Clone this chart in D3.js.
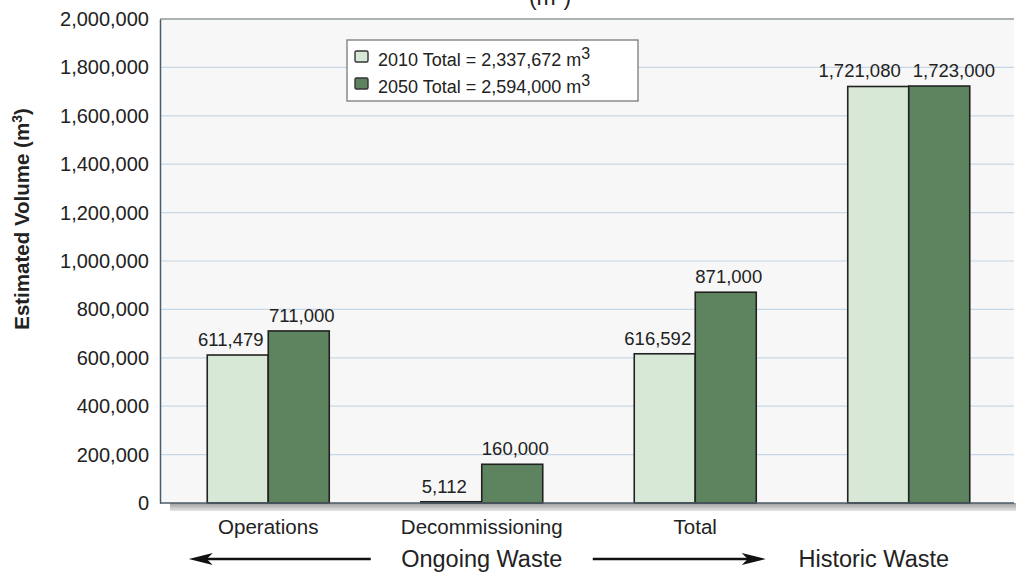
<!DOCTYPE html>
<html>
<head>
<meta charset="utf-8">
<script src="https://cdn.jsdelivr.net/npm/d3@7"></script>
<style>
	body { margin: 0; background: #fff; }
	svg { display: block; font-family: 'Liberation Sans', Arial, sans-serif; }
	.tick line { display: none; }
</style>
</head>
<body>
<div id="chart"></div>
<script>
// ********** GROUPED BAR CHART **********

// Chart data
const categories = ['Operations', 'Decommissioning', 'Total', 'Historic'];
const axisLabels = ['Operations', 'Decommissioning', 'Total', ''];
const seriesNames = ['2010', '2050'];
const values2010 = [611479, 5112, 616592, 1721080];
const values2050 = [711000, 160000, 871000, 1723000];
const legendTotals = ['2,337,672', '2,594,000'];
const yTicks = [0, 200000, 400000, 600000, 800000, 1000000, 1200000, 1400000, 1600000, 1800000, 2000000];

// Size and margins
const width = 1016;
const height = 575;
const margin = { top: 19, left: 160, right: 2, bottom: 72 };
const innerW = width - margin.left - margin.right;
const innerH = height - margin.top - margin.bottom;

// Colours
const colors = { '2010': '#d7e8d6', '2050': '#5e845f' };
// Label nudges per series (labels lean away from each other)
const labelNudge = { '2010': -7, '2050': 3 };

const svg = d3.select('#chart')
	.append('svg')
	.attr('width', width)
	.attr('height', height);

// Scales
const xScale = d3.scaleBand()
	.domain(categories)
	.range([1.5, innerW + 1.5]);

const xSub = d3.scaleBand()
	.domain(seriesNames)
	.range([0, xScale.bandwidth()])
	.paddingOuter(0.75);

const yScale = d3.scaleLinear()
	.domain([0, 2000000])
	.range([innerH, 0]);

const fmt = d3.format(',');

// Title (cut off at top of picture)
svg.append('text')
	.attr('x', 550)
	.attr('y', 5)
	.attr('text-anchor', 'middle')
	.style('font-size', '23px')
	.attr('fill', '#222')
	.text('(m³)');

const plot = svg.append('g')
	.attr('transform', `translate(${margin.left}, ${margin.top})`);

// Plot background
plot.append('rect')
	.attr('width', innerW)
	.attr('height', innerH)
	.attr('fill', '#f7f7f7');

// Shadow under the x axis
const defs = svg.append('defs');
const grad = defs.append('linearGradient')
	.attr('id', 'shadow')
	.attr('x1', 0).attr('y1', 0).attr('x2', 0).attr('y2', 1);
grad.append('stop').attr('offset', '0%').attr('stop-color', '#9c9c9c');
grad.append('stop').attr('offset', '100%').attr('stop-color', '#e6e6e6');

plot.append('rect')
	.attr('x', 10)
	.attr('y', innerH)
	.attr('width', innerW)
	.attr('height', 8)
	.attr('fill', 'url(#shadow)');

// Gridlines
plot.append('g')
	.selectAll('line')
	.data(yTicks.slice(1, -1))
	.join('line')
	.attr('x1', 0)
	.attr('x2', innerW)
	.attr('y1', d => yScale(d))
	.attr('y2', d => yScale(d))
	.attr('stroke', '#c6d8e6')
	.attr('stroke-width', 1.2);

// Top border
plot.append('line')
	.attr('x1', 0).attr('x2', innerW)
	.attr('y1', 0).attr('y2', 0)
	.attr('stroke', '#5d6a6a')
	.attr('stroke-width', 1.2);

// Y axis
const yAxis = d3.axisLeft(yScale)
	.tickValues(yTicks)
	.tickSize(0)
	.tickPadding(11)
	.tickFormat(fmt);

plot.append('g')
	.attr('class', 'y axis')
	.call(yAxis)
	.call(g => g.select('.domain').attr('stroke', '#4d5b66').attr('stroke-width', 1.5))
	.selectAll('text')
	.style('font-size', '20px')
	.attr('fill', '#222');

// X axis
const xAxis = d3.axisBottom(xScale)
	.tickSize(0)
	.tickPadding(16)
	.tickFormat((d, i) => axisLabels[i]);

plot.append('g')
	.attr('class', 'x axis')
	.attr('transform', `translate(0, ${innerH})`)
	.call(xAxis)
	.call(g => g.select('.domain').remove())
	.selectAll('text')
	.style('font-size', '20.5px')
	.attr('fill', '#222');

// Bars
const barData = categories.map((c, i) => ({
	cat: c,
	vals: [
		{ key: '2010', value: values2010[i] },
		{ key: '2050', value: values2050[i] }
	]
}));

const groups = plot.append('g')
	.selectAll('g')
	.data(barData)
	.join('g')
	.attr('transform', d => `translate(${xScale(d.cat)}, 0)`);

groups.selectAll('rect')
	.data(d => d.vals)
	.join('rect')
	.attr('x', d => xSub(d.key))
	.attr('y', d => yScale(d.value))
	.attr('width', xSub.bandwidth())
	.attr('height', d => innerH - yScale(d.value))
	.attr('fill', d => colors[d.key])
	.attr('stroke', '#222')
	.attr('stroke-width', 1.6);

// Value labels
groups.each(function(d) {
	const g = d3.select(this);
	const labels = g.selectAll('text.value')
		.data(d.vals)
		.join('text')
		.attr('class', 'value')
		.attr('y', v => yScale(v.value) - 9)
		.attr('text-anchor', 'middle')
		.style('font-size', '18.5px')
		.attr('fill', '#222')
		.text(v => fmt(v.value));
	// Base positions with nudge
	const xs = d.vals.map(v => xSub(v.key) + xSub.bandwidth() / 2 + labelNudge[v.key]);
	const ws = labels.nodes().map(n => n.getComputedTextLength());
	const ys = d.vals.map(v => yScale(v.value) - 9);
	// Push apart if labels sit on the same line and collide
	if (Math.abs(ys[0] - ys[1]) < 20) {
		const need = ws[0] / 2 + ws[1] / 2 + 12;
		const have = xs[1] - xs[0];
		if (have < need) {
			xs[0] -= (need - have) / 2;
			xs[1] += (need - have) / 2;
		}
	}
	labels.attr('x', (v, i) => xs[i]);
});

// X axis line
plot.append('line')
	.attr('x1', 0).attr('x2', innerW)
	.attr('y1', innerH).attr('y2', innerH)
	.attr('stroke', '#4d5b66')
	.attr('stroke-width', 1.5);

// Legend
const legend = svg.append('g')
	.attr('transform', 'translate(347, 40)');

legend.append('rect')
	.attr('width', 291)
	.attr('height', 61)
	.attr('fill', '#fff')
	.attr('stroke', '#7a7a7a')
	.attr('stroke-width', 1.3);

const items = legend.selectAll('g.item')
	.data(seriesNames)
	.join('g')
	.attr('class', 'item')
	.attr('transform', (d, i) => `translate(0, ${i * 27})`);

items.append('rect')
	.attr('x', 8)
	.attr('y', 11)
	.attr('width', 13)
	.attr('height', 11)
	.attr('rx', 1.5)
	.attr('fill', d => colors[d])
	.attr('stroke', '#333')
	.attr('stroke-width', 1.4);

const legendText = items.append('text')
	.attr('x', 31)
	.attr('y', 26)
	.style('font-size', '18px')
	.attr('fill', '#222');

legendText.append('tspan')
	.text((d, i) => `${d} Total = ${legendTotals[i]} m`);
legendText.append('tspan')
	.attr('dy', -7)
	.style('font-size', '16px')
	.text('3');

// Annotation row: Ongoing / Historic waste with arrows
const rowY = height - 16;
const ongoingX = margin.left + xScale('Decommissioning') + xScale.bandwidth() / 2;
const historicX = margin.left + xScale('Historic') + xScale.bandwidth() / 2 - 35;

svg.append('text')
	.attr('x', ongoingX)
	.attr('y', rowY + 8)
	.attr('text-anchor', 'middle')
	.style('font-size', '23.5px')
	.attr('fill', '#222')
	.text('Ongoing Waste');

svg.append('text')
	.attr('x', historicX)
	.attr('y', rowY + 8)
	.attr('text-anchor', 'middle')
	.style('font-size', '23.5px')
	.attr('fill', '#222')
	.text('Historic Waste');

// Draw a notched arrow head pointing along dir (+1 right, -1 left)
const drawArrow = (x1, x2, y, dir) => {
	const tip = dir > 0 ? x2 : x1;
	const tail = dir > 0 ? x1 : x2;
	svg.append('line')
		.attr('x1', tail)
		.attr('x2', tip - dir * 15)
		.attr('y1', y).attr('y2', y)
		.attr('stroke', '#111')
		.attr('stroke-width', 2.6);
	svg.append('path')
		.attr('d', `M${tip},${y} L${tip - dir * 24},${y - 6} L${tip - dir * 18},${y} L${tip - dir * 24},${y + 6} Z`)
		.attr('fill', '#111');
};

drawArrow(ongoingX - 293, ongoingX - 111, rowY, -1);
drawArrow(ongoingX + 111, ongoingX + 284, rowY, 1);

// Y axis title
svg.append('text')
	.attr('transform', `translate(29, 219) rotate(-90)`)
	.attr('text-anchor', 'middle')
	.style('font-size', '20.5px')
	.style('font-weight', 'bold')
	.attr('fill', '#222')
	.call(t => t.append('tspan').text('Estimated Volume (m'))
	.call(t => t.append('tspan').attr('dy', -7).style('font-size', '14px').text('3'))
	.call(t => t.append('tspan').attr('dy', 7).text(')'));
</script>
</body>
</html>
